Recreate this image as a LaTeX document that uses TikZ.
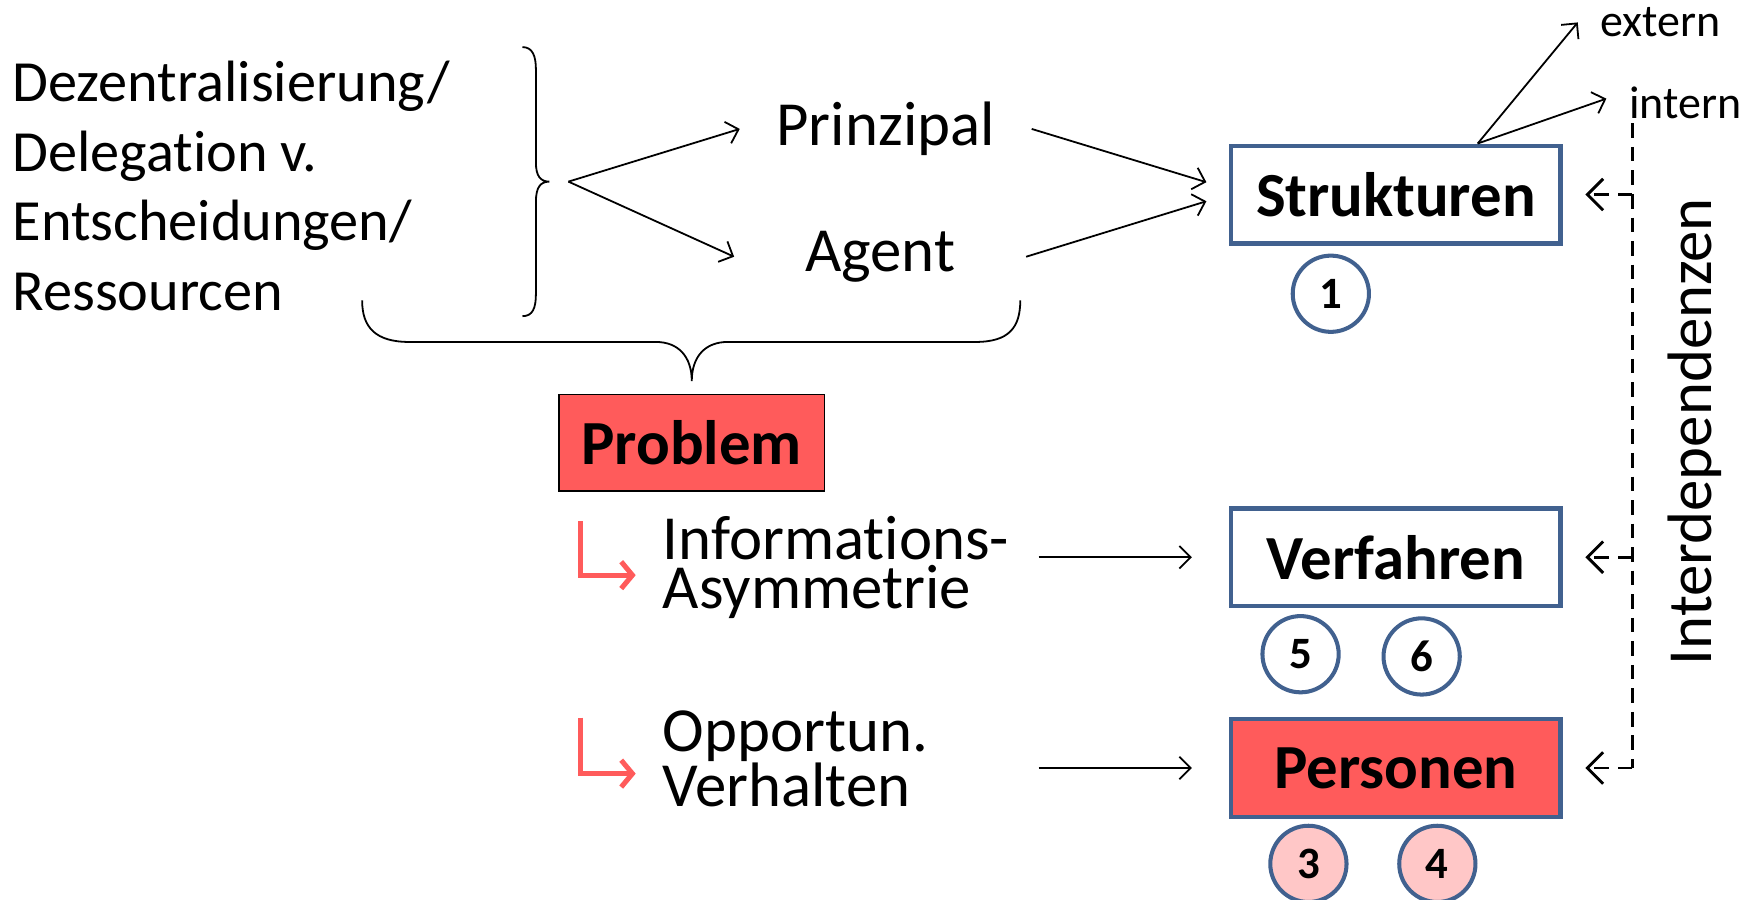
\documentclass[tikz,border=0pt]{standalone}
\usepackage{fontspec}
\setmainfont{Carlito}[RawFeature={-liga;-clig;-calt;-dlig}]
\usetikzlibrary{arrows.meta,calc}
\definecolor{pred}{HTML}{FF5B5B}
\definecolor{pblue}{HTML}{41618F}
\definecolor{ppink}{HTML}{FFC7C7}
\begin{document}
\begin{tikzpicture}[x=1pt,y=-1pt,
  big/.style={font=\fontsize{56}{44}\selectfont, inner sep=0pt},
  arr/.style={line width=1.6pt,-{Straight Barb[length=10pt,width=20pt,line width=1.6pt]}},
  redarr/.style={draw=pred,line width=4.5pt,-{Straight Barb[length=10pt,width=24pt,line width=4.5pt]}},
  brace/.style={line width=1.6pt},
  box/.style={draw=pblue,line width=4pt,minimum width=294pt,minimum height=87pt,inner sep=0pt,font=\fontsize{56}{60}\selectfont\bfseries},
  circ/.style={circle,draw=pblue,line width=3.6pt,minimum size=68pt,inner sep=0pt,fill=white,font=\fontsize{40}{40}\selectfont\bfseries},
  dashl/.style={line width=2.6pt,dash pattern=on 13pt off 8pt},
  dasharr/.style={dashl,-{Straight Barb[length=14pt,width=28pt,line width=2.6pt]},shorten >=20pt}]
\useasboundingbox (0,0) rectangle (1568,802);

% left text and brace
\node[anchor=west,align=left,inner sep=0pt,font=\fontsize{52}{62}\selectfont] (dez) at (11,166)
  {Dezentralisierung/\\Delegation v.\\Entscheidungen/\\Ressourcen};
\draw[brace] (466,42) .. controls (475,42) and (478,50) .. (478,62) -- (478,145)
  .. controls (478,157) and (482,162) .. (490,162)
  .. controls (482,162) and (478,167) .. (478,180) -- (478,262)
  .. controls (478,275) and (475,282) .. (466,282);
\coordinate (fork) at (507,162);

\node[big,minimum width=260pt] (prin) at (790,115) {Prinzipal};
\node[big,minimum width=260pt] (agent) at (785,229) {Agent};
\draw[arr] (fork) -- (prin.west);
\draw[arr] (fork) -- (agent.west);

% bottom brace
\draw[brace] (323,268) .. controls (323,292) and (335,305) .. (365,305) -- (585,305)
  .. controls (605,305) and (617,318) .. (617,340)
  .. controls (617,318) and (629,305) .. (649,305) -- (870,305)
  .. controls (900,305) and (910,292) .. (910,268);

\node[draw=black,line width=1.2pt,fill=pred,minimum width=237pt,minimum height=86pt,inner sep=0pt,
  font=\fontsize{56}{60}\selectfont\bfseries] (prob) at (617,395) {Problem};

\node[big,anchor=west,align=left,text width=320pt] (info) at (591,506) {Informations-\\Asymmetrie};
\node[big,anchor=west,align=left,text width=320pt] (opp) at (591,677) {Opportun.\\Verhalten};
\draw[redarr] ($(info.west)+(-73,-41)$) |- ($(info.west)+(-24,7)$);
\draw[redarr] ($(opp.west)+(-73,-37)$) |- ($(opp.west)+(-24,13)$);

% boxes
\node[box] (struk) at (1245,173.5) {Strukturen};
\node[box] (verf) at (1245,497) {Verfahren};
\node[box,fill=pred] (pers) at (1245,685) {Personen};

\draw[arr] (prin.east) -- ($(struk.west)+(-20,-11)$);
\draw[arr] (agent.east) -- ($(struk.west)+(-20,6)$);
\draw[arr,shorten <=15pt,shorten >=33pt] (info.east |- verf.west) -- (verf.west);
\draw[arr,shorten <=15pt,shorten >=33pt] (opp.east |- pers.west) -- (pers.west);

% circles
\node[circ] (c1) at ($(struk.south)+(-58,43)$) {1};
\node[circ] (c5) at ($(verf.south)+(-85,41)$) {5};
\node[circ] (c6) at ($(verf.south)+(23,43)$) {6};
\node[circ,fill=ppink] (c3) at ($(pers.south)+(-78,40)$) {3};
\node[circ,fill=ppink] (c4) at ($(pers.south)+(37,40)$) {4};

% extern / intern
\coordinate (sk) at ($(struk.north)+(73,0)$);
\node[inner sep=0pt,font=\fontsize{41}{44}\selectfont] (extern) at (1481,20) {extern};
\node[inner sep=0pt,font=\fontsize{41}{44}\selectfont] (intern) at (1503,92) {intern};
\draw[arr] (sk) -- ($(extern.west)+(-20,0)$);
\draw[arr] (sk) -- ($(intern.west)+(-20,-4)$);

% interdependencies
\coordinate (dt) at (1456,110);
\coordinate (db) at (dt |- pers.east);
\draw[dashl] (dt) -- (db);
\draw[dasharr] (dt |- struk.east) -- (struk.east);
\draw[dasharr] (dt |- verf.east) -- (verf.east);
\draw[dasharr] (db) -- (pers.east);
\node[big,rotate=90] (interd) at (1512,385) {Interdependenzen};
\end{tikzpicture}
\end{document}
